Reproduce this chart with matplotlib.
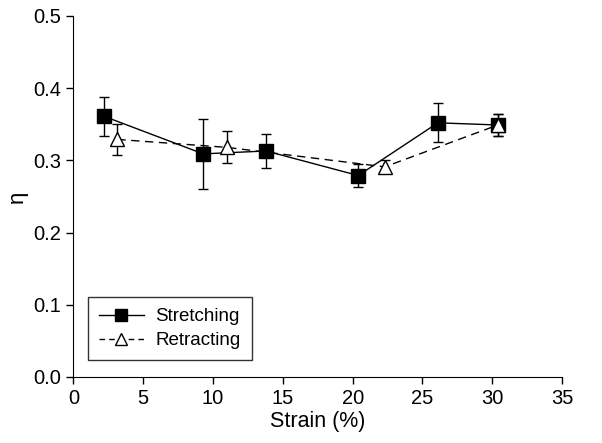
import matplotlib
matplotlib.use("Agg")
import matplotlib.pyplot as plt
from matplotlib.lines import Line2D

plt.rcParams['font.family'] = ['Liberation Sans', 'DejaVu Sans']

# data
stretch_x = [2.2, 9.3, 13.8, 20.4, 26.1, 30.4]
stretch_y = [0.361, 0.309, 0.313, 0.279, 0.352, 0.349]
stretch_err = [0.027, 0.048, 0.023, 0.016, 0.027, 0.015]

retract_x = [3.15, 11.0, 22.3, 30.4]
retract_y = [0.329, 0.318, 0.291, 0.349]
retract_err = [0.021, 0.022, 0.009, 0.015]

fig = plt.figure(figsize=(6.02, 4.43), dpi=100)
ax = fig.add_axes([0.1218, 0.149, 0.812, 0.815])

ax.errorbar(stretch_x, stretch_y, yerr=stretch_err, color='black', lw=1.0,
            marker='s', ms=10, mfc='black', mec='black', capsize=3.6,
            elinewidth=1.0, capthick=1.0, zorder=3)
ax.errorbar(retract_x, retract_y, yerr=retract_err, color='black', lw=1.0,
            ls=(0, (6, 4)), marker='^', ms=10, mfc='white', mec='black',
            capsize=3.6, elinewidth=1.0, capthick=1.0, zorder=4)

ax.set_xlim(0, 35)
ax.set_ylim(0, 0.5)
ax.set_xticks(range(0, 36, 5))
ax.set_yticks([0.0, 0.1, 0.2, 0.3, 0.4, 0.5])
ax.set_yticklabels(['0.0', '0.1', '0.2', '0.3', '0.4', '0.5'])
ax.spines['top'].set_visible(False)
ax.spines['right'].set_visible(False)
ax.tick_params(direction='out', length=5, width=1, labelsize=14.5)
ax.set_xlabel('Strain (%)', fontsize=15.5, labelpad=2)
ax.set_ylabel('η', fontsize=16)

# legend handles without the error bars
handles = [Line2D([], [], color='black', lw=1.0, marker='s', ms=8,
                  mfc='black', mec='black'),
           Line2D([], [], color='black', lw=1.0, ls=(0, (4, 3)), marker='^',
                  ms=8, mfc='white', mec='black')]
leg = ax.legend(handles, ['Stretching', 'Retracting'], loc='lower left',
                bbox_to_anchor=(0.01, 0.02), fontsize=13.5, frameon=True,
                fancybox=False, edgecolor='black', handlelength=2.4,
                borderpad=0.6, labelspacing=0.35, handletextpad=0.6)
leg.get_frame().set_linewidth(1.0)

fig.savefig('out.png', dpi=100)
